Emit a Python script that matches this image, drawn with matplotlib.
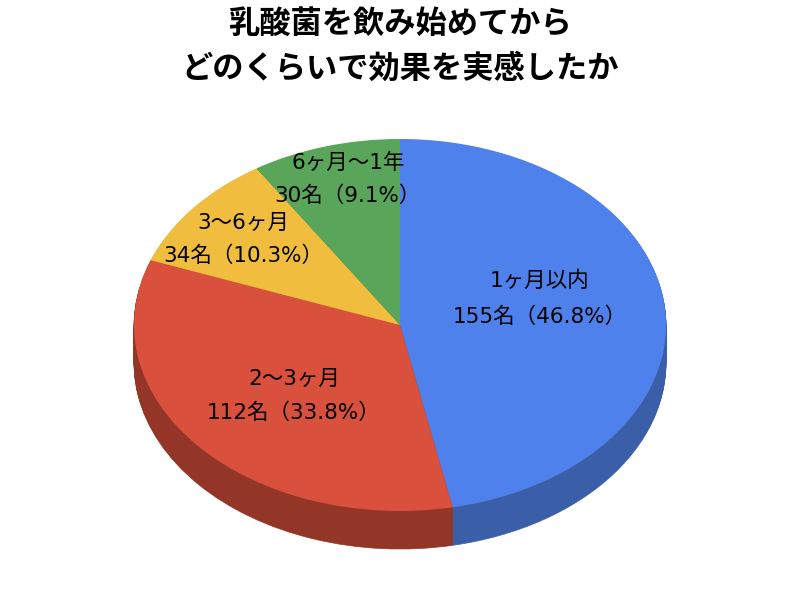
import matplotlib
matplotlib.use("Agg")
import matplotlib.pyplot as plt

plt.rcParams['font.family'] = ['DejaVu Sans', 'Noto Sans CJK JP']

title_lines = ["乳酸菌を飲み始めてから", "どのくらいで効果を実感したか"]
categories = ["1ヶ月以内", "2〜3ヶ月", "3〜6ヶ月", "6ヶ月〜1年"]
counts = [155, 112, 34, 30]
percents = ["46.8%", "33.8%", "10.3%", "9.1%"]
top_colors = ["#4f81ed", "#d9503c", "#f1bd3e", "#59a65a"]
side_colors = ["#3a5ea8", "#933527", "#a8842b", "#3e743f"]

# where the two label lines sit, in image pixels (x centre, y of each line)
label_pos = [(540, 281, 317), (294, 379, 413), (243, 223, 256), (348, 163, 196)]

W, H = 800, 600
cx, cy = 400, 325
rx, ry = 266, 186
depth = 38

fig = plt.figure(figsize=(W / 100, H / 100), dpi=100, facecolor="white")
ax = fig.add_axes([0, 0, 1, 1])

# fake 3D: stack of darker pies going down, top pie on the end
for d in range(depth, 0, -1):
    ax.pie(counts, colors=side_colors, startangle=90, counterclock=False,
           center=(0, -d / ry), wedgeprops={"linewidth": 0.5, "antialiased": True})
    for c in ax.patches[-len(counts):]:
        c.set_edgecolor(c.get_facecolor())
ax.pie(counts, colors=top_colors, startangle=90, counterclock=False, center=(0, 0))

ax.set_aspect("auto")
ax.set_xlim(-cx / rx, (W - cx) / rx)
ax.set_ylim(-(H - cy) / ry, cy / ry)


def put(x, y, s, **kw):
    fig.text(x / W, 1 - y / H, s, ha="center", va="center", color="black", **kw)


put(400, 24, title_lines[0], fontsize=22.5, fontweight="bold", family="Noto Sans CJK JP")
put(400, 69, title_lines[1], fontsize=22.5, fontweight="bold", family="Noto Sans CJK JP")

for cat, n, pct, (x, y1, y2) in zip(categories, counts, percents, label_pos):
    put(x, y1, cat, fontsize=15.5)
    put(x, y2, f"{n}名（{pct}）", fontsize=15.5)

fig.savefig("out.png", dpi=100)
